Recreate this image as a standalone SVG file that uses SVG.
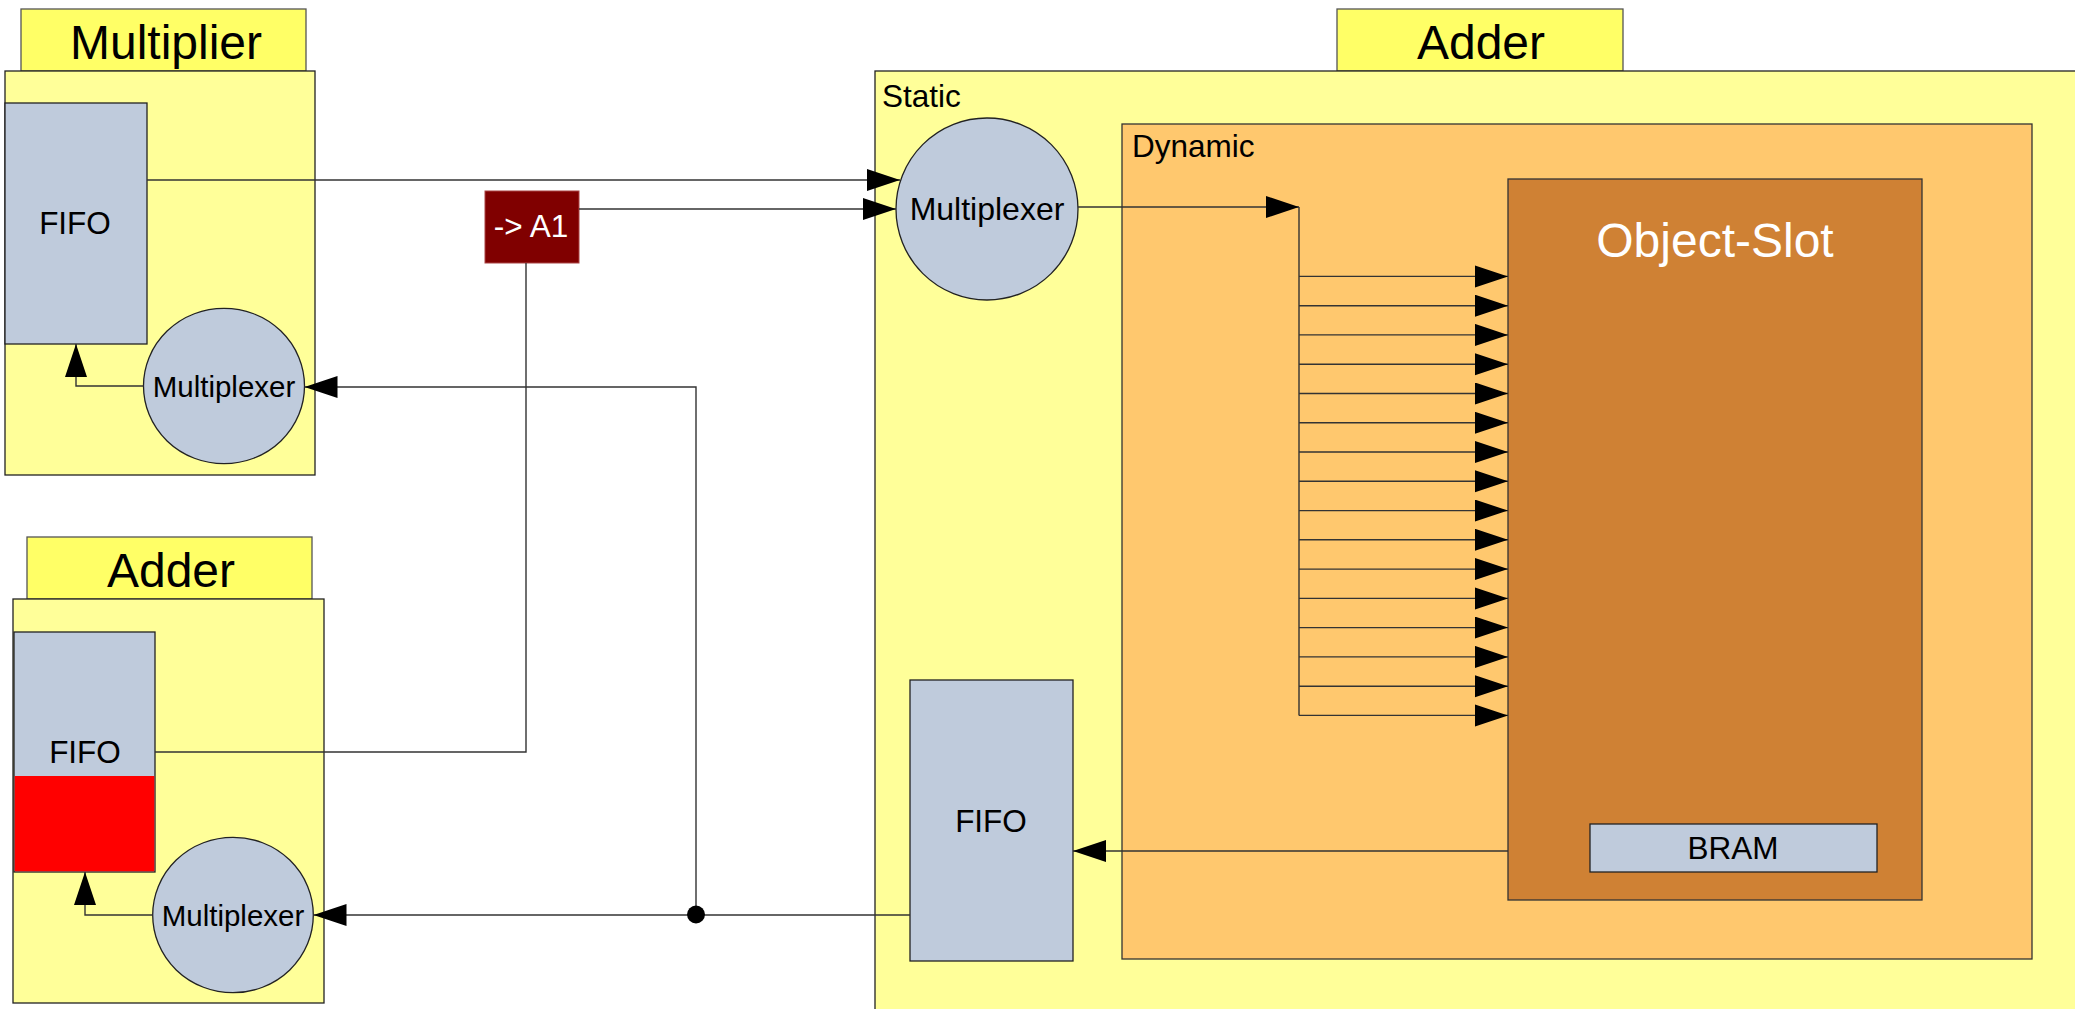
<svg xmlns="http://www.w3.org/2000/svg" width="2075" height="1009" viewBox="0 0 2075 1009">
  <defs>
    <style>
      .tab { fill: #ffff66; stroke: #555555; stroke-width: 1.3; }
      .body { fill: #ffff99; stroke: #222222; stroke-width: 1.3; }
      .blue { fill: #bfcbdc; stroke: #222222; stroke-width: 1.3; }
      .dyn { fill: #ffc86e; stroke: #333333; stroke-width: 1.3; }
      .slot { fill: #cf8134; stroke: #333333; stroke-width: 1.3; }
      .a1 { fill: #800000; stroke: #aa4444; stroke-width: 1; }
      .red { fill: #ff0000; stroke: none; }
      text { font-family: "Liberation Sans", Arial, sans-serif; fill: #000000; }
      .title { font-size: 48px; text-anchor: middle; }
      .lbl { font-size: 31.5px; text-anchor: middle; }
      .mux { font-size: 29.5px; text-anchor: middle; }
      .corner { font-size: 31.5px; }
      .white { fill: #ffffff; }
      .conn { fill: none; stroke: #333333; stroke-width: 1.4; }
      .arr { marker-end: url(#ah); }
    </style>
    <marker id="ah" markerUnits="userSpaceOnUse" markerWidth="34" markerHeight="24" refX="33" refY="11" orient="auto">
      <path d="M0,0 L33,11 L0,22 Z" fill="#000000"/>
    </marker>
  </defs>

  <!-- Multiplier block -->
  <g id="multiplier">
    <rect class="tab" x="21" y="9" width="285" height="62"/>
    <text class="title" x="166" y="59">Multiplier</text>
    <rect class="body" x="5" y="71" width="310" height="404"/>
  </g>
  <g id="mult-fifo">
    <rect class="blue" x="5" y="103" width="142" height="241"/>
    <text class="lbl" x="75" y="234">FIFO</text>
  </g>
  <g id="mult-mux">
    <ellipse class="blue" cx="224" cy="386" rx="80.5" ry="77.7"/>
    <text class="mux" x="224" y="397">Multiplexer</text>
  </g>

  <!-- Adder block (left) -->
  <g id="adder-left">
    <rect class="tab" x="27" y="537" width="285" height="62"/>
    <text class="title" x="171" y="587">Adder</text>
    <rect class="body" x="13" y="599" width="311" height="404"/>
  </g>
  <g id="adder-fifo">
    <rect class="blue" x="14" y="632" width="141" height="240"/>
    <rect class="red" x="14.7" y="776" width="139.6" height="95.3"/>
    <text class="lbl" x="85" y="763">FIFO</text>
  </g>
  <g id="adder-mux">
    <ellipse class="blue" cx="233" cy="915" rx="80.3" ry="77.7"/>
    <text class="mux" x="233" y="926">Multiplexer</text>
  </g>

  <!-- Address tag -->
  <g id="tag-a1">
    <rect class="a1" x="485" y="191" width="94" height="72"/>
    <text class="lbl white" x="531" y="237">-&gt; A1</text>
  </g>

  <!-- Adder block (right) -->
  <g id="adder-right">
    <rect class="tab" x="1337" y="9" width="286" height="62"/>
    <text class="title" x="1481" y="59">Adder</text>
  </g>
  <g id="static">
    <rect class="body" x="875" y="71" width="1220" height="960"/>
    <text class="corner" x="882" y="107">Static</text>
  </g>
  <g id="static-mux">
    <circle class="blue" cx="987" cy="209" r="91"/>
    <text class="lbl" x="987" y="220" style="font-size:32px">Multiplexer</text>
  </g>
  <g id="static-fifo">
    <rect class="blue" x="910" y="680" width="163" height="281"/>
    <text class="lbl" x="991" y="832">FIFO</text>
  </g>
  <g id="dynamic">
    <rect class="dyn" x="1122" y="124" width="910" height="835"/>
    <text class="corner" x="1132" y="157">Dynamic</text>
  </g>
  <g id="object-slot">
    <rect class="slot" x="1508" y="179" width="414" height="721"/>
    <text class="title white" x="1715" y="257">Object-Slot</text>
  </g>
  <g id="bram">
    <rect class="blue" x="1590" y="824" width="287" height="48"/>
    <text class="lbl" x="1733" y="859">BRAM</text>
  </g>

  <!-- Connectors -->
  <g id="connectors">
    <path class="conn arr" d="M147,180 H900"/>
    <path class="conn arr" d="M579,209 H896"/>
    <path class="conn" d="M155,752 H526 V263"/>
    <path class="conn arr" d="M1078,207 H1299"/>
    <path class="conn" d="M1299,207 V715.4"/>
    <path class="conn arr" d="M1299,276.4 H1508"/>
    <path class="conn arr" d="M1299,305.7 H1508"/>
    <path class="conn arr" d="M1299,334.9 H1508"/>
    <path class="conn arr" d="M1299,364.2 H1508"/>
    <path class="conn arr" d="M1299,393.5 H1508"/>
    <path class="conn arr" d="M1299,422.8 H1508"/>
    <path class="conn arr" d="M1299,452.0 H1508"/>
    <path class="conn arr" d="M1299,481.3 H1508"/>
    <path class="conn arr" d="M1299,510.6 H1508"/>
    <path class="conn arr" d="M1299,539.8 H1508"/>
    <path class="conn arr" d="M1299,569.1 H1508"/>
    <path class="conn arr" d="M1299,598.4 H1508"/>
    <path class="conn arr" d="M1299,627.6 H1508"/>
    <path class="conn arr" d="M1299,656.9 H1508"/>
    <path class="conn arr" d="M1299,686.2 H1508"/>
    <path class="conn arr" d="M1299,715.4 H1508"/>
    <path class="conn arr" d="M1508,851 H1073"/>
    <path class="conn arr" d="M910,915 H313.5"/>
    <path class="conn arr" d="M696,915 V387 H304.5"/>
    <circle cx="696" cy="914.5" r="9" fill="#000000"/>
    <path class="conn arr" d="M143.5,386 H76 V344"/>
    <path class="conn arr" d="M152.7,915 H85 V872"/>
  </g>
</svg>
